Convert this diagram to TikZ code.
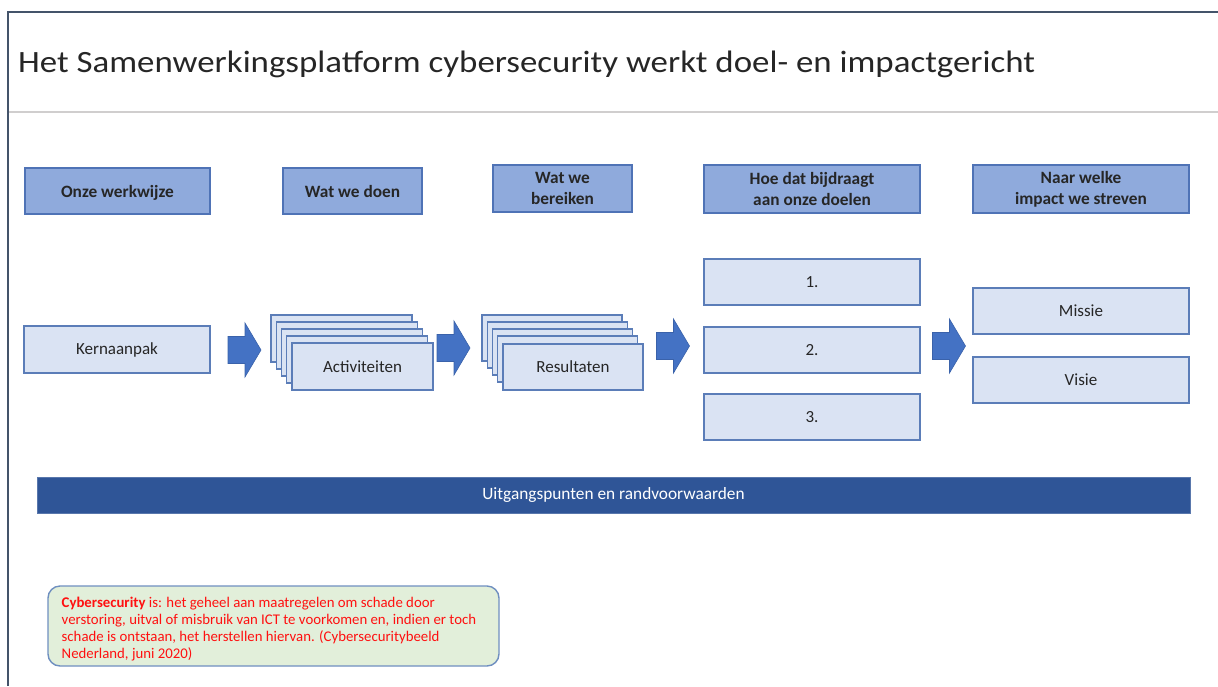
\documentclass[tikz,border=0pt]{standalone}
\usepackage{graphicx}
\usepackage{fontspec}
\setmainfont{Carlito}
\definecolor{framec}{HTML}{44546A}
\definecolor{sepc}{HTML}{D0CECE}
\definecolor{headfill}{HTML}{8FAADC}
\definecolor{headdraw}{HTML}{4F73B6}
\definecolor{boxfill}{HTML}{DAE3F3}
\definecolor{boxdraw}{HTML}{5B7DB8}
\definecolor{arrowblue}{HTML}{4472C4}
\definecolor{arrowdraw}{HTML}{3A62AA}
\definecolor{barblue}{HTML}{2F5597}
\definecolor{deffill}{HTML}{E2EFDA}
\definecolor{defdraw}{HTML}{6F8FC0}
\definecolor{deftext}{HTML}{FF1010}
\definecolor{txt}{HTML}{262626}
\tikzset{
  headbox/.style={draw=headdraw, line width=1.4pt, fill=headfill, inner sep=0pt, align=center,
    text=txt, font=\fontsize{17.3}{21}\selectfont\bfseries},
  contentbox/.style={draw=boxdraw, line width=1.4pt, fill=boxfill, inner sep=0pt, align=center,
    text=txt, font=\fontsize{17}{20}\selectfont},
  barrow/.pic={\filldraw[fill=arrowblue, draw=arrowdraw, line width=0.6pt]
    (-16.5,-13.5) -- (0.5,-13.5) -- (0.5,-27) -- (16.5,0) -- (0.5,27) -- (0.5,13.5) -- (-16.5,13.5) -- cycle;}
}
\begin{document}
\begin{tikzpicture}[x=1pt,y=-1pt]
\useasboundingbox (0,0) rectangle (1218,686);
% frame
\draw[framec, line width=2pt] (8,686) -- (8,12) -- (1218,12);
\draw[sepc, line width=2pt] (9,112) -- (1218,112);
\node[anchor=base west, inner sep=0pt, text=txt, font=\fontsize{31}{36}\selectfont] (title) at (18,72)
  {\scalebox{1.125}[1]{Het Samenwerkingsplatform cybersecurity werkt doel- en impactgericht}};
% headers
\node[headbox, minimum width=185pt, minimum height=46pt, text depth=0pt] (h1) at (117.5,191) {Onze werkwijze};
\node[headbox, minimum width=139pt, minimum height=46pt, text depth=0pt] (h2) at (352.5,191) {Wat we doen};
\node[headbox, minimum width=139pt, minimum height=47pt] (h3) at (562.5,188.5) {Wat we\\bereiken};
\node[headbox, minimum width=216pt, minimum height=48pt] (h4) at (812,189) {Hoe dat bijdraagt\\aan onze doelen};
\node[headbox, minimum width=216pt, minimum height=48pt] (h5) at (1081,189) {Naar welke\\impact we streven};
% content
\node[contentbox, minimum width=186pt, minimum height=47pt] (kern) at (117,349.5) {Kernaanpak};
\foreach \i in {0,...,3}{
  \node[contentbox, minimum width=141pt, minimum height=47pt] at (341.5+5.25*\i,338.5+7*\i) {};
  \node[contentbox, minimum width=140pt, minimum height=46pt] at (552+5.25*\i,338+7*\i) {};
}
\node[contentbox, minimum width=141pt, minimum height=47pt] (act) at (362.5,366.5) {Activiteiten};
\node[contentbox, minimum width=140pt, minimum height=46pt] (res) at (573,367) {Resultaten};
\node[contentbox, minimum width=216pt, minimum height=46pt] (g1) at (812,282) {1.};
\node[contentbox, minimum width=216pt, minimum height=46pt] (g2) at (812,350) {2.};
\node[contentbox, minimum width=216pt, minimum height=46pt] (g3) at (812,417) {3.};
\node[contentbox, minimum width=216pt, minimum height=46pt] (missie) at (1081,311) {Missie};
\node[contentbox, minimum width=216pt, minimum height=46pt] (visie) at (1081,380) {Visie};
% block arrows
\coordinate (a1) at (244.5,350);
\coordinate (a2) at (453.5,348);
\coordinate (a3) at (673,346);
\coordinate (a4) at (949,346);
\foreach \c in {a1,a2,a3,a4}{ \pic at (\c) {barrow}; }
% bar
\node[fill=barblue, draw=barblue!80!white, line width=0.8pt, minimum width=1153pt, minimum height=36pt, inner sep=0pt,
  text=white, font=\fontsize{17.3}{20}\selectfont] (bar) at (613.5,495) {Uitgangspunten en randvoorwaarden};
% definition
\node[draw=defdraw, line width=1.4pt, fill=deffill, rounded corners=12pt, minimum width=451pt, minimum height=80pt,
  inner sep=0pt] (defbox) at (273.5,626) {};
\node[anchor=north west, inner sep=0pt, align=left, text=deftext, font=\fontsize{14.8}{17}\selectfont] (deftxt) at (61.5,596.5)
  {\textbf{Cybersecurity} is: het geheel aan maatregelen om schade door\\
   verstoring, uitval of misbruik van ICT te voorkomen en, indien er toch\\
   schade is ontstaan, het herstellen hiervan. (Cybersecuritybeeld\\
   Nederland, juni 2020)};
\end{tikzpicture}
\end{document}
